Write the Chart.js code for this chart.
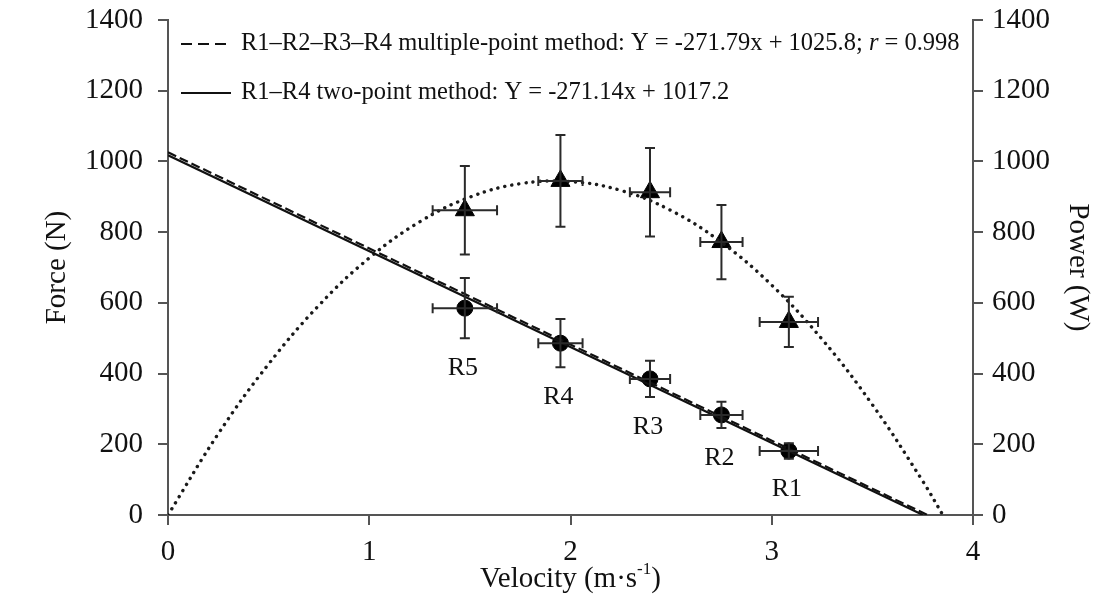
<!DOCTYPE html>
<html>
<head>
<meta charset="utf-8">
<script src="https://cdn.jsdelivr.net/npm/chart.js@4"></script>
<style>
  html, body { margin: 0; padding: 0; background: #fff; }
  #wrap { width: 1103px; height: 604px; }
</style>
</head>
<body>
<div id="wrap"><canvas id="chart" width="1103" height="604"></canvas></div>
<script>
// R1..R5 (fastest to slowest)
const labels = ["R1", "R2", "R3", "R4", "R5"];
const velocity = [3.085, 2.75, 2.395, 1.95, 1.475];
const velocityErr = [0.145, 0.105, 0.10, 0.11, 0.16];
const force = [181, 283, 385, 486, 585];
const forceErr = [22, 37, 51, 68, 85];
const power = [546, 772, 913, 945, 862];
const powerErr = [71, 105, 125, 130, 125];

// fitted lines (end points)
const multiFitX = [0, 3.774];
const multiFitY = [1025.8, 0];
const twoPointFitX = [0, 3.752];
const twoPointFitY = [1017.2, 0];

// power curve
const powerCurveX = [0, 0.25, 0.5, 0.75, 1.0, 1.25, 1.5, 1.75, 2.0, 2.25, 2.5, 2.75, 3.0, 3.25, 3.5, 3.75, 3.85];
const powerCurveY = [0, 230, 427, 593, 727, 829, 899, 937, 943, 918, 861, 771, 650, 497, 312, 96, 0];

const yTicks = [0, 200, 400, 600, 800, 1000, 1200, 1400];
const xTicks = [0, 1, 2, 3, 4];

const SERIF = "'Liberation Serif', 'Times New Roman', serif";
const INK = "#111";
const AXIS = "#555";

const toPts = (xs, ys) => xs.map((v, i) => ({ x: v, y: ys[i] }));

const extras = {
    id: "extras",
    afterDatasetsDraw(chart) {
        const { ctx, scales } = chart;
        const x = scales.x;
        ctx.save();
        ctx.strokeStyle = "#2a2a2a";
        ctx.lineWidth = 2;

        function errBars(vx, ex, vy, ey, yScale) {
            const px = x.getPixelForValue(vx);
            const py = yScale.getPixelForValue(vy);
            const x1 = x.getPixelForValue(vx - ex);
            const x2 = x.getPixelForValue(vx + ex);
            const y1 = yScale.getPixelForValue(vy - ey);
            const y2 = yScale.getPixelForValue(vy + ey);
            ctx.beginPath();
            ctx.moveTo(x1, py); ctx.lineTo(x2, py);
            ctx.moveTo(x1, py - 5); ctx.lineTo(x1, py + 5);
            ctx.moveTo(x2, py - 5); ctx.lineTo(x2, py + 5);
            ctx.moveTo(px, y1); ctx.lineTo(px, y2);
            ctx.moveTo(px - 5, y1); ctx.lineTo(px + 5, y1);
            ctx.moveTo(px - 5, y2); ctx.lineTo(px + 5, y2);
            ctx.stroke();
        }

        for (let i = 0; i < velocity.length; i++) {
            errBars(velocity[i], velocityErr[i], force[i], forceErr[i], scales.y);
            errBars(velocity[i], velocityErr[i], power[i], powerErr[i], scales.y2);
        }

        // R labels under each force point
        ctx.fillStyle = INK;
        ctx.font = "26px " + SERIF;
        ctx.textAlign = "center";
        ctx.textBaseline = "middle";
        for (let i = 0; i < labels.length; i++) {
            const px = x.getPixelForValue(velocity[i]);
            const py = scales.y.getPixelForValue(force[i] - forceErr[i]);
            ctx.fillText(labels[i], px - 2, py + 30);
        }
        ctx.restore();
    },
    afterDraw(chart) {
        const { ctx, chartArea } = chart;
        ctx.save();
        ctx.fillStyle = INK;
        ctx.strokeStyle = INK;
        ctx.textBaseline = "middle";
        ctx.textAlign = "left";

        // legend
        const lx = chartArea.left + 13;
        const rows = [chartArea.top + 24, chartArea.top + 73];
        ctx.lineWidth = 2;
        ctx.setLineDash([11, 6]);
        ctx.beginPath(); ctx.moveTo(lx, rows[0]); ctx.lineTo(lx + 50, rows[0]); ctx.stroke();
        ctx.setLineDash([]);
        ctx.beginPath(); ctx.moveTo(lx, rows[1]); ctx.lineTo(lx + 50, rows[1]); ctx.stroke();

        const font = "24.5px " + SERIF;
        let tx = lx + 60;
        ctx.font = font;
        const a = "R1\u2013R2\u2013R3\u2013R4 multiple-point method: Y = -271.79x + 1025.8; ";
        ctx.fillText(a, tx, rows[0]);
        tx += ctx.measureText(a).width;
        ctx.font = "italic " + font;
        ctx.fillText("r", tx, rows[0]);
        tx += ctx.measureText("r").width;
        ctx.font = font;
        ctx.fillText(" = 0.998", tx, rows[0]);
        ctx.fillText("R1\u2013R4 two-point method: Y = -271.14x + 1017.2", lx + 60, rows[1]);

        // x axis title with superscript
        const parts = ["Velocity (m\u00b7s", "-1", ")"];
        const big = "29px " + SERIF, small = "17px " + SERIF;
        ctx.font = big; const w0 = ctx.measureText(parts[0]).width, w2 = ctx.measureText(parts[2]).width;
        ctx.font = small; const w1 = ctx.measureText(parts[1]).width;
        let sx = (chartArea.left + chartArea.right) / 2 - (w0 + w1 + w2) / 2;
        const sy = 579;
        ctx.font = big; ctx.fillText(parts[0], sx, sy); sx += w0;
        ctx.font = small; ctx.fillText(parts[1], sx, sy - 9); sx += w1;
        ctx.font = big; ctx.fillText(parts[2], sx, sy);
        ctx.restore();
    }
};

const gridOpts = {
    display: true,
    drawOnChartArea: false,
    drawTicks: true,
    tickLength: 10,
    color: AXIS,
    lineWidth: 2
};

const plainTick = v => String(v);

function fitY(width) {
    return s => {
        s.width = width;
        s.paddingTop = 0;
        s.paddingBottom = 0;
    };
}

new Chart(document.getElementById("chart"), {
    type: "scatter",
    data: {
        datasets: [
            {
                label: "multiple-point",
                data: toPts(multiFitX, multiFitY),
                showLine: true,
                borderColor: INK,
                borderWidth: 2.2,
                borderDash: [9, 4],
                pointRadius: 0,
                yAxisID: "y"
            },
            {
                label: "two-point",
                data: toPts(twoPointFitX, twoPointFitY),
                showLine: true,
                borderColor: INK,
                borderWidth: 2.2,
                pointRadius: 0,
                yAxisID: "y"
            },
            {
                label: "power curve",
                data: toPts(powerCurveX, powerCurveY),
                showLine: true,
                borderColor: "#1a1a1a",
                borderWidth: 3.4,
                borderDash: [0.1, 7],
                borderCapStyle: "round",
                tension: 0.4,
                pointRadius: 0,
                yAxisID: "y2"
            },
            {
                label: "Force",
                data: toPts(velocity, force),
                pointStyle: "circle",
                pointRadius: 8,
                backgroundColor: "#000",
                borderColor: "#000",
                yAxisID: "y"
            },
            {
                label: "Power",
                data: toPts(velocity, power),
                pointStyle: "triangle",
                pointRadius: 11,
                backgroundColor: "#000",
                borderColor: "#000",
                yAxisID: "y2"
            }
        ]
    },
    options: {
        responsive: false,
        animation: false,
        layout: { padding: { top: 20, left: 0, right: 0, bottom: 0 } },
        plugins: {
            legend: { display: false },
            tooltip: { enabled: false }
        },
        scales: {
            x: {
                type: "linear",
                min: 0,
                max: 4,
                afterBuildTicks: s => { s.ticks = xTicks.map(v => ({ value: v })); },
                afterFit: s => { s.height = 89; s.paddingLeft = 0; s.paddingRight = 0; },
                grid: gridOpts,
                border: { display: true, color: AXIS, width: 2 },
                ticks: { color: INK, padding: 10, font: { family: SERIF, size: 29 }, callback: plainTick },
                title: { display: false }
            },
            y: {
                position: "left",
                min: 0,
                max: 1400,
                afterBuildTicks: s => { s.ticks = yTicks.map(v => ({ value: v })); },
                afterFit: fitY(168),
                grid: gridOpts,
                border: { display: true, color: AXIS, width: 2 },
                ticks: { color: INK, padding: 15, font: { family: SERIF, size: 29 }, callback: plainTick },
                title: {
                    display: true,
                    text: "Force (N)",
                    color: INK,
                    font: { family: SERIF, size: 29 },
                    padding: { top: 40, bottom: 0 }
                }
            },
            y2: {
                position: "right",
                min: 0,
                max: 1400,
                afterBuildTicks: s => { s.ticks = yTicks.map(v => ({ value: v })); },
                afterFit: fitY(130),
                grid: gridOpts,
                border: { display: true, color: AXIS, width: 2 },
                ticks: { color: INK, padding: 9, font: { family: SERIF, size: 29 }, callback: plainTick },
                title: {
                    display: true,
                    text: "Power (W)",
                    color: INK,
                    font: { family: SERIF, size: 29 },
                    padding: { top: 8, bottom: 0 }
                }
            }
        }
    },
    plugins: [extras]
});
</script>
</body>
</html>
